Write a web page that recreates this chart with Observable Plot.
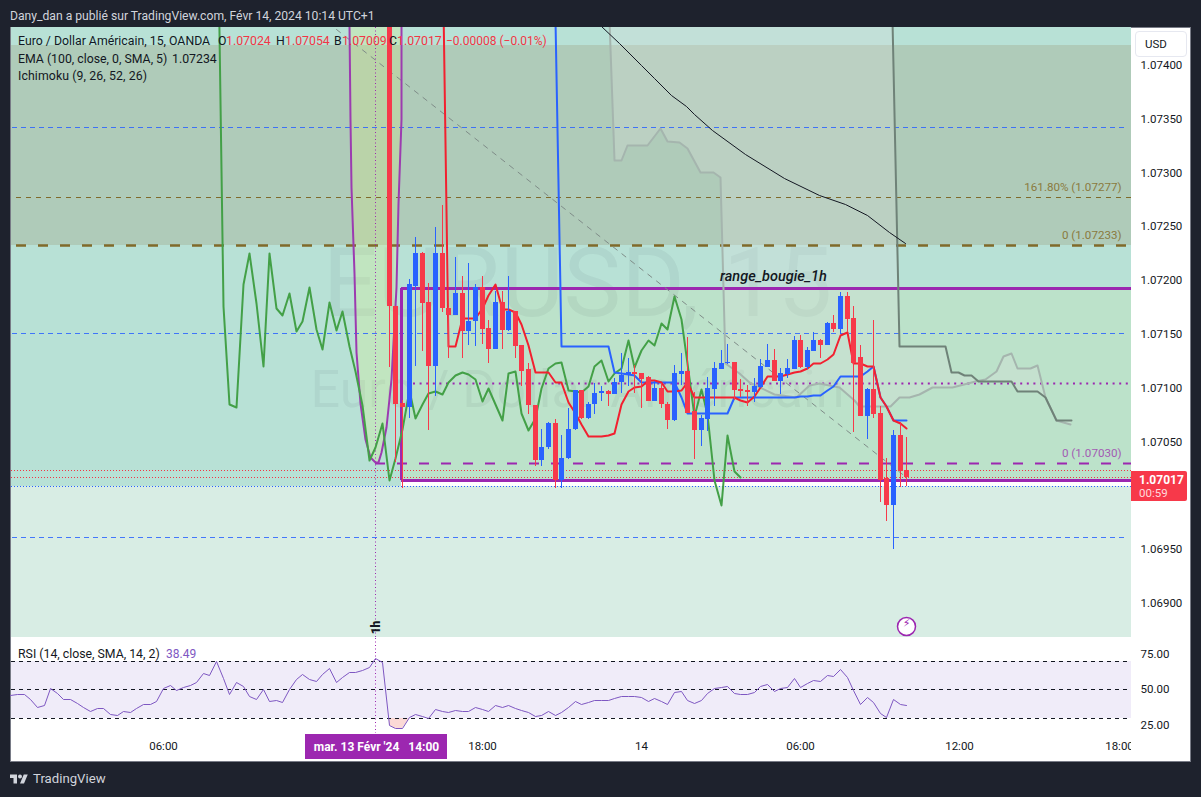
<!DOCTYPE html>
<html lang="fr">
<head>
<meta charset="utf-8">
<title>EUR/USD 15</title>
<script src="https://cdn.jsdelivr.net/npm/d3@7"></script>
<script src="https://cdn.jsdelivr.net/npm/@observablehq/plot@0.6"></script>
<style>
  html, body { margin: 0; padding: 0; background: #1e222d; width: 1201px; height: 797px; overflow: hidden; font-family: Roboto, sans-serif; }
  .abs { position: absolute; white-space: pre; line-height: 1; }
  #frame { position: absolute; left: 10px; top: 27px; width: 1181px; height: 735px; box-sizing: border-box; background: #fff; border: 1px solid #787b86; }
  svg.plot, svg { background: transparent; }
  .ht { color: #131722; font-size: 12.3px; }
  .rd { color: #f23645; font-size: 12.3px; }
</style>
</head>
<body>
<div id="frame"></div>
<div class="abs" style="left:10px;top:10px;font-size:12.15px;color:#d1d4dc">Dany_dan a publié sur TradingView.com, Févr 14, 2024 10:14 UTC+1</div>
<div id="main" class="abs" style="left:0;top:0"></div>
<div id="rsi" class="abs" style="left:0;top:0"></div>
<div class="abs" style="left:1131px;top:734px;width:58px;height:26px;background:#fff"></div>

<div class="abs ht" style="left:18px;top:35px">Euro / Dollar Américain, 15, OANDA</div>
<div class="abs ht" style="left:218px;top:35px">O</div><div class="abs rd" style="left:226px;top:35px">1.07024</div>
<div class="abs ht" style="left:276px;top:35px">H</div><div class="abs rd" style="left:285px;top:35px">1.07054</div>
<div class="abs ht" style="left:334px;top:35px">B</div><div class="abs rd" style="left:342px;top:35px">1.07009</div>
<div class="abs ht" style="left:389px;top:35px">C</div><div class="abs rd" style="left:397px;top:35px">1.07017</div>
<div class="abs rd" style="left:446px;top:35px;font-size:12px">−0.00008 (−0.01%)</div>
<div class="abs ht" style="left:18px;top:53px">EMA (100, close, 0, SMA, 5)</div>
<div class="abs ht" style="left:172px;top:53px">1.07234</div>
<div class="abs ht" style="left:18px;top:70px;letter-spacing:0.1px">Ichimoku (9, 26, 52, 26)</div>
<div class="abs ht" style="left:18px;top:648px">RSI (14, close, SMA, 14, 2)</div>
<div class="abs" style="left:166px;top:648px;font-size:12px;color:#7e57c2">38.49</div>

<div class="abs" style="left:1135px;top:31px;width:52px;height:26px;box-sizing:border-box;background:#fff;border:1px solid #e6e8f0;border-radius:4px;font-size:11.5px;color:#131722;padding:7px 0 0 9px">USD</div>
<div class="abs" style="left:1131px;top:471px;width:56px;height:30px;background:#f7394a;border-radius:0 2px 2px 0"></div>
<div class="abs" style="left:1139px;top:474px;font-size:12px;font-weight:700;color:#fff">1.07017</div>
<div class="abs" style="left:1139px;top:488px;font-size:11.5px;color:#ffd9dc">00:59</div>

<svg class="abs" style="left:10px;top:773px" width="18" height="12" viewBox="0 3 36 20"><path fill="#d1d4dc" d="M14 22H7V11H0V4h14v18zM28 22h-8l7.5-18h8L28 22z"/><circle fill="#d1d4dc" cx="20" cy="8" r="4"/></svg>
<div class="abs" style="left:33px;top:772px;font-size:13.2px;color:#d1d4dc">TradingView</div>

<script>
// ---- Candles, 15 minute bars from 14:30 on 13 Feb (hours counted from 13 Feb 00:00) ----
const barFirstHour = 14.5;
const barOpen = [1.07620,1.07176,1.07086,1.07082,1.07195,1.07225,1.07180,1.07120,1.07225,1.07174,1.07168,1.07188,1.07153,1.07162,1.07194,1.07156,1.07136,1.07180,1.07154,1.07171,1.07140,1.07117,1.07084,1.07033,1.07045,1.07067,1.07014,1.07035,1.07062,1.07098,1.07072,1.07085,1.07095,1.07097,1.07094,1.07105,1.07112,1.07115,1.07114,1.07110,1.07088,1.07100,1.07085,1.07070,1.07113,1.07116,1.07078,1.07061,1.07071,1.07099,1.07117,1.07123,1.07124,1.07099,1.07098,1.07096,1.07101,1.07119,1.07126,1.07106,1.07113,1.07117,1.07144,1.07119,1.07134,1.07144,1.07140,1.07160,1.07155,1.07185,1.07165,1.07129,1.07074,1.07099,1.07077,1.07016,1.06991,1.07056,1.07024];
const barHigh = [1.07630,1.07176,1.07089,1.07201,1.07240,1.07226,1.07197,1.07249,1.07270,1.07175,1.07222,1.07204,1.07216,1.07196,1.07204,1.07163,1.07190,1.07190,1.07204,1.07171,1.07140,1.07123,1.07084,1.07062,1.07068,1.07071,1.07056,1.07081,1.07098,1.07098,1.07087,1.07104,1.07102,1.07098,1.07109,1.07132,1.07128,1.07121,1.07114,1.07111,1.07106,1.07104,1.07087,1.07121,1.07132,1.07147,1.07096,1.07075,1.07110,1.07124,1.07135,1.07141,1.07124,1.07108,1.07103,1.07109,1.07127,1.07141,1.07136,1.07118,1.07127,1.07148,1.07149,1.07138,1.07152,1.07145,1.07161,1.07168,1.07189,1.07189,1.07176,1.07140,1.07100,1.07163,1.07083,1.07035,1.07061,1.07068,1.07054];
const barLow = [1.07119,1.07031,1.07007,1.07072,1.07120,1.07134,1.07061,1.07092,1.07170,1.07128,1.07168,1.07128,1.07140,1.07139,1.07141,1.07123,1.07136,1.07136,1.07153,1.07128,1.07102,1.07076,1.07027,1.07027,1.07043,1.07007,1.07007,1.07034,1.07061,1.07071,1.07071,1.07076,1.07088,1.07083,1.07094,1.07095,1.07102,1.07095,1.07081,1.07088,1.07088,1.07081,1.07062,1.07069,1.07103,1.07077,1.07034,1.07046,1.07060,1.07083,1.07117,1.07122,1.07089,1.07091,1.07083,1.07087,1.07100,1.07119,1.07106,1.07094,1.07109,1.07117,1.07118,1.07117,1.07134,1.07128,1.07140,1.07152,1.07150,1.07152,1.07059,1.07074,1.07052,1.07072,1.06994,1.06976,1.06950,1.07008,1.07009];
const barClose = [1.07176,1.07085,1.07082,1.07196,1.07225,1.07179,1.07120,1.07225,1.07174,1.07168,1.07188,1.07153,1.07162,1.07194,1.07155,1.07136,1.07180,1.07154,1.07171,1.07139,1.07116,1.07084,1.07033,1.07045,1.07067,1.07014,1.07035,1.07062,1.07098,1.07072,1.07085,1.07095,1.07097,1.07094,1.07105,1.07112,1.07115,1.07113,1.07108,1.07088,1.07100,1.07085,1.07070,1.07114,1.07116,1.07077,1.07061,1.07072,1.07100,1.07118,1.07123,1.07124,1.07098,1.07097,1.07096,1.07102,1.07120,1.07126,1.07106,1.07114,1.07118,1.07144,1.07119,1.07135,1.07144,1.07140,1.07160,1.07155,1.07185,1.07164,1.07123,1.07074,1.07099,1.07076,1.07014,1.06991,1.07056,1.07023,1.07017];
const closeBeforeFirstBar = 1.07620;
const lagBars = 25;

// ---- Ichimoku ----
const tenkanFirstBar = 8;
const tenkan = [1.07517,1.07139,1.07139,1.07165,1.07165,1.07165,1.07174,1.07186,1.07196,1.07173,1.07173,1.07170,1.07159,1.07140,1.07115,1.07115,1.07115,1.07105,1.07105,1.07087,1.07077,1.07066,1.07055,1.07055,1.07055,1.07056,1.07058,1.07085,1.07097,1.07101,1.07102,1.07107,1.07107,1.07105,1.07097,1.07097,1.07098,1.07105,1.07091,1.07091,1.07091,1.07091,1.07091,1.07091,1.07091,1.07089,1.07087,1.07092,1.07101,1.07111,1.07111,1.07111,1.07113,1.07115,1.07116,1.07118,1.07123,1.07123,1.07127,1.07131,1.07149,1.07152,1.07123,1.07123,1.07120,1.07120,1.07091,1.07083,1.07070,1.07067,1.07063];
const kijunFirstBar = 25;
const kijun = [1.07442,1.07139,1.07139,1.07139,1.07139,1.07139,1.07139,1.07139,1.07139,1.07115,1.07114,1.07113,1.07112,1.07105,1.07105,1.07105,1.07105,1.07105,1.07105,1.07091,1.07077,1.07077,1.07077,1.07077,1.07077,1.07077,1.07077,1.07091,1.07091,1.07091,1.07091,1.07091,1.07091,1.07091,1.07091,1.07091,1.07091,1.07092,1.07092,1.07093,1.07093,1.07098,1.07102,1.07111,1.07111,1.07111,1.07111,1.07116,1.07120,1.07091,1.07083,1.07070,1.07070,1.07070];
const spanAHours = [22.78,22.99,23.24,23.49,24.24,24.71,25.0,25.44,25.75,26.23,26.71,26.97,27.15,27.69,28.07,29.0,29.83,30.32,30.7,31.45,32.02,32.2,33.4,33.71,34.08,34.46,34.95,35.7,36.59,36.96,37.39,37.65,37.95,38.18,38.66,38.93,39.22,39.65,40.16];
const spanAPrice = [1.07442,1.07312,1.07312,1.07326,1.07326,1.07341,1.07329,1.07328,1.07323,1.07301,1.07301,1.07296,1.07123,1.07114,1.07105,1.07094,1.07091,1.07103,1.07104,1.07101,1.07089,1.07083,1.07083,1.07091,1.07091,1.07094,1.07101,1.07101,1.07106,1.07108,1.07116,1.07130,1.07132,1.07118,1.07118,1.07121,1.07091,1.07070,1.07066];
const spanBHours = [33.44,33.71,35.44,35.69,35.96,36.18,36.45,36.68,37.95,38.18,38.93,39.22,39.65,40.2];
const spanBPrice = [1.07442,1.07139,1.07139,1.07115,1.07115,1.07112,1.07112,1.07106,1.07106,1.07097,1.07097,1.07091,1.07070,1.07070];

// ---- EMA ----
const emaHours = [22.49,23.18,23.99,24.5,25.12,25.69,26.0,26.69,27.94,29.38,30.7,31.7,32.51,33.33,33.96];
const emaPrice = [1.07436,1.07420,1.07400,1.07388,1.07372,1.07362,1.07354,1.07340,1.07317,1.07295,1.07279,1.07271,1.07261,1.07245,1.07235];

// ---- Drawings ----
const curveLeftHours = [13.0,13.06,13.09,13.18,13.28,13.41,13.59,13.78,13.97];
const curveLeftPrice = [1.07436,1.07350,1.07287,1.07207,1.07133,1.07086,1.07052,1.07036,1.07031];
const curveRightHours = [14.08,14.22,14.41,14.6,14.79,14.87,14.95,14.98];
const curveRightPrice = [1.07031,1.07040,1.07064,1.07108,1.07194,1.07272,1.07350,1.07436];
const trendHours = [12.5,33.97];
const trendPrice = [1.07433,1.07017];
const boxStartHour = 14.98, levelStartHour = 14.0, dottedStartHour = 15.4;
const blueLevels = [1.07342,1.07151,1.06961];
const fibHigh = 1.07277, fibBase = 1.07233, fibLow = 1.07030;
const rangeTop = 1.07193, rangeBottom = 1.07014, rangeMid = 1.07104;
const redDotted = [1.07024,1.07017], blueDotted = 1.07009;
const zoneTop = 1.07419, zoneBottomLeft = 1.07009;
const priceTicks = [1.074,1.0735,1.073,1.0725,1.072,1.0715,1.071,1.0705,1.0695,1.069];
const timeTicks = [6,18,24,30,36,42];
const timeLabels = ["06:00","18:00","14","06:00","12:00","18:00"];
const markerHour = 14, flashHour = 34;

// ---- RSI, one value per 15 minute bar from 00:15 on 13 Feb ----
const rsiFirstHour = 0.25;
const rsiValues = [46.1,47.1,46.6,43.3,37.7,39.2,51.3,47.3,43.3,43.1,40.3,37.5,35.2,37.0,36.8,32.9,31.9,35.0,34.5,37.0,39.8,39.6,41.9,50.8,53.2,49.9,51.5,52.9,55.0,61.6,60.4,70.0,58.3,46.6,55.5,52.5,45.7,43.3,50.1,41.7,42.7,41.5,50.1,57.6,61.1,57.6,56.0,60.9,65.3,55.5,58.5,62.0,62.0,63.4,66.0,72.3,69.0,24.9,23.3,23.1,31.0,32.6,31.2,29.8,36.6,34.7,34.5,35.6,
  34.7,35.2,37.7,36.1,35.0,38.9,37.7,38.9,37.3,35.9,34.0,31.2,32.4,35.0,31.9,34.5,37.7,41.7,40.1,41.5,42.4,42.9,42.7,44.1,45.2,45.7,45.7,44.7,41.9,44.1,41.9,39.6,48.3,48.7,42.9,40.5,42.4,47.8,51.3,52.0,52.2,47.3,47.1,46.6,48.0,52.2,53.9,49.0,51.0,52.0,57.8,51.5,54.8,56.6,56.2,59.9,59.2,64.6,59.0,49.7,40.1,45.0,41.5,33.5,31.0,43.1,39.8,38.9];
const rsiTicks = [25,50,75];
const rsiLevels = [70,50,30];
const oversoldStart = 57, oversoldEnd = 61;

// ---- Scales (visible window of both panes) ----
const xDomain = [0.275, 42.46];
const yDomain = [1.068684, 1.074353];
const rsiDomain = [19.54, 86.06];

// ---- Tables built from the lists ----
const bars = barOpen.map((o, i) => ({h: barFirstHour + i * 0.25, o, hi: barHigh[i], lo: barLow[i], c: barClose[i]}));
const up = bars.filter(d => d.c >= d.o), down = bars.filter(d => d.c < d.o);
const lag = [{h: barFirstHour - 0.25 - lagBars * 0.25, y: closeBeforeFirstBar},
  ...bars.map(d => ({h: d.h - lagBars * 0.25, y: d.c}))];
const pair = (xs, ys) => xs.map((x, i) => ({x, y: ys[i]}));
const tenkanPts = tenkan.map((y, i) => ({x: barFirstHour + (tenkanFirstBar + i) * 0.25, y}));
const kijunPts = kijun.map((y, i) => ({x: barFirstHour + (kijunFirstBar + i) * 0.25, y}));
const spanA = pair(spanAHours, spanAPrice), spanB = pair(spanBHours, spanBPrice);
const cloud = [...spanA, ...spanB.slice().reverse()];
const curve = pair([...curveLeftHours, ...curveRightHours], [...curveLeftPrice, ...curveRightPrice]);
const rsi = rsiValues.map((y, i) => ({x: rsiFirstHour + i * 0.25, y}));

const RED = "#f7394a", BLUE = "#2962ff", PURPLE = "#9c27b0", BROWN = "#806a2a";
const [xL, xR] = xDomain, [yB, yT] = yDomain;
const band = (x1, x2, y1, y2, fill) => Plot.rect([0], {x1: () => x1, x2: () => x2, y1: () => y1, y2: () => y2, fill, clip: true});
const level = (y, x1, stroke, strokeWidth, strokeDasharray) =>
  Plot.ruleY([y], {x1, x2: xR, stroke, strokeWidth, strokeDasharray});

const main = Plot.plot({
  width: 1201, height: 638, marginLeft: 11, marginRight: 70, marginTop: 27, marginBottom: 1,
  x: {domain: xDomain, axis: null, round: true},
  y: {domain: yDomain, round: true},
  style: {background: "transparent", fontFamily: "Roboto, sans-serif", overflow: "visible"},
  marks: [
    // zones
    band(xL, xR, yB, zoneBottomLeft, "#d8ede4"),
    band(xL, boxStartHour, zoneBottomLeft, yT, "#b8e1d6"),
    band(boxStartHour, xR, rangeBottom, yT, "#b8e1d6"),
    band(xL, xR, fibBase, zoneTop, "#afcbb9"),
    band(boxStartHour, xR, rangeBottom, rangeTop, "#bce2ca"),
    // watermark
    Plot.text(["EURUSD, 15"], {frameAnchor: "middle", dx: 6, dy: -48, fontSize: 97, fill: "#131722", fillOpacity: 0.05}),
    Plot.text(["Euro / Dollar Américain"], {frameAnchor: "middle", dx: 6, dy: 58, fontSize: 52, fill: "#131722", fillOpacity: 0.05}),
    // ichimoku cloud and drawn curve fills
    Plot.line(cloud, {x: "x", y: "y", fill: "#dedee0", fillOpacity: 0.25, stroke: "none", clip: true}),
    Plot.line(curve, {x: "x", y: "y", fill: "#e6f369", fillOpacity: 0.2, stroke: "none", clip: true}),
    // levels
    ...blueLevels.map(y => Plot.ruleY([y], {x1: xL + 0.05, x2: 42.24, stroke: BLUE, strokeOpacity: 0.85, strokeWidth: 1, strokeDasharray: "5 4"})),
    level(fibHigh, 0.45, BROWN, 1, "5 5"),
    level(fibBase, 0.45, BROWN, 2.5, "10 12"),
    level(fibLow, levelStartHour, PURPLE, 2, "10 12"),
    level(rangeMid, dottedStartHour, PURPLE, 2, "2 4.6"),
    ...redDotted.map(y => level(y, xL, "#f23645", 1, "1 2")),
    level(blueDotted, xL, BLUE, 1, "1 2"),
    level(rangeTop, boxStartHour, PURPLE, 3, null),
    level(rangeBottom, boxStartHour, PURPLE, 3, null),
    Plot.ruleX([boxStartHour], {y1: rangeBottom, y2: rangeTop, stroke: PURPLE, strokeWidth: 3}),
    Plot.ruleX([markerHour], {stroke: PURPLE, strokeWidth: 1, strokeDasharray: "1 2.5"}),
    // drawn lines
    Plot.line(pair(trendHours, trendPrice), {x: "x", y: "y", stroke: "#7f8c88", strokeWidth: 1, strokeDasharray: "5 6", clip: true}),
    Plot.line(curve, {x: "x", y: "y", stroke: "#9c3bb0", strokeWidth: 2, curve: "linear", clip: true}),
    // ichimoku lines
    Plot.line(spanA, {x: "x", y: "y", stroke: "#a5b5ae", strokeWidth: 2, clip: true}),
    Plot.line(spanB, {x: "x", y: "y", stroke: "#6f8278", strokeWidth: 2, clip: true}),
    Plot.line(lag, {x: "h", y: "y", stroke: "#43a047", strokeWidth: 2, clip: true}),
    Plot.line(kijunPts, {x: "x", y: "y", stroke: BLUE, strokeWidth: 2, clip: true}),
    Plot.line(tenkanPts, {x: "x", y: "y", stroke: "#f2202f", strokeWidth: 2, clip: true}),
    // EMA
    Plot.line(pair(emaHours, emaPrice), {x: "x", y: "y", stroke: "#131722", strokeWidth: 1, clip: true}),
    // candles
    Plot.ruleX(up, {x: "h", y1: "lo", y2: "hi", stroke: BLUE, strokeWidth: 1, clip: true}),
    Plot.ruleX(down, {x: "h", y1: "lo", y2: "hi", stroke: RED, strokeWidth: 1, clip: true}),
    Plot.ruleX(up, {x: "h", y1: "o", y2: "c", stroke: BLUE, strokeWidth: 5, clip: true}),
    Plot.ruleX(down, {x: "h", y1: "o", y2: "c", stroke: RED, strokeWidth: 5, clip: true}),
    // labels
    Plot.text(["161.80% (1.07277)"], {x: () => 42.08, y: () => fibHigh, dy: -10, textAnchor: "end", fontSize: 11.6, fill: "#8a7a3e"}),
    Plot.text(["0 (1.07233)"], {x: () => 42.08, y: () => fibBase, dy: -10, textAnchor: "end", fontSize: 11.6, fill: "#8a7a3e"}),
    Plot.text(["0 (1.07030)"], {x: () => 42.08, y: () => fibLow, dy: -10, textAnchor: "end", fontSize: 11.6, fill: "#a35bb3"}),
    Plot.text(["range_bougie_1h"], {x: () => 28.96, y: () => rangeTop, dy: -12, fontSize: 14.5, fontStyle: "italic", fontWeight: 500, fill: "#131722", letterSpacing: 0.6}),
    Plot.text(["1h"], {x: () => markerHour, frameAnchor: "bottom", dx: 4, dy: -10, rotate: -90, fontSize: 12, fontWeight: 900, fill: "#131722"}),
    Plot.dot([flashHour], {x: d => d, frameAnchor: "bottom", dy: -11, r: 9, stroke: PURPLE, strokeWidth: 1.5, fill: "#fff"}),
    Plot.text(["⚡"], {x: () => flashHour, frameAnchor: "bottom", dy: -11, fontSize: 11, fontFamily: "DejaVu Sans", fill: PURPLE}),
    // price axis
    Plot.axisY({anchor: "right", ticks: priceTicks, tickSize: 0, tickPadding: 9, label: null, tickFormat: d => d.toFixed(5), fontSize: 11.5, color: "#131722"})
  ]
});
document.getElementById("main").append(main);

const rsiPlot = Plot.plot({
  width: 1201, height: 762, marginLeft: 11, marginRight: 70, marginTop: 638, marginBottom: 29,
  x: {domain: xDomain, round: true},
  y: {domain: rsiDomain, round: true},
  style: {background: "transparent", fontFamily: "Roboto, sans-serif"},
  marks: [
    Plot.rect([0], {x1: () => xL, x2: () => xR, y1: () => 30, y2: () => 70, fill: "#f0ecf9"}),
    Plot.areaY(rsi.slice(oversoldStart, oversoldEnd), {x: "x", y1: () => 30, y2: d => Math.min(d.y, 30), fill: "#fbd9d6", clip: true}),
    ...rsiLevels.map(y => Plot.ruleY([y], {stroke: "#131722", strokeWidth: 1, strokeDasharray: "4 4"})),
    Plot.ruleX([markerHour], {stroke: PURPLE, strokeWidth: 1, strokeDasharray: "1 2.5"}),
    Plot.line(rsi, {x: "x", y: "y", stroke: "#7e57c2", strokeWidth: 1}),
    Plot.axisY({anchor: "right", ticks: rsiTicks, tickSize: 0, tickPadding: 9, label: null, tickFormat: d => d.toFixed(2), fontSize: 11.5, color: "#131722"}),
    Plot.axisX({anchor: "bottom", ticks: timeTicks, tickSize: 0, tickPadding: 8, label: null, tickFormat: d => timeLabels[timeTicks.indexOf(d)], fontSize: 11.5, color: "#131722"}),
    Plot.rect([0], {x1: () => 11.34, x2: () => 16.71, y1: () => 1.3, y2: () => 18.8, fill: PURPLE}),
    Plot.text(["mar. 13 Févr '24   14:00"], {x: () => 14.03, y: () => 10, fontSize: 12, fontWeight: 700, fill: "#fff"})
  ]
});
document.getElementById("rsi").append(rsiPlot);
</script>
</body>
</html>
